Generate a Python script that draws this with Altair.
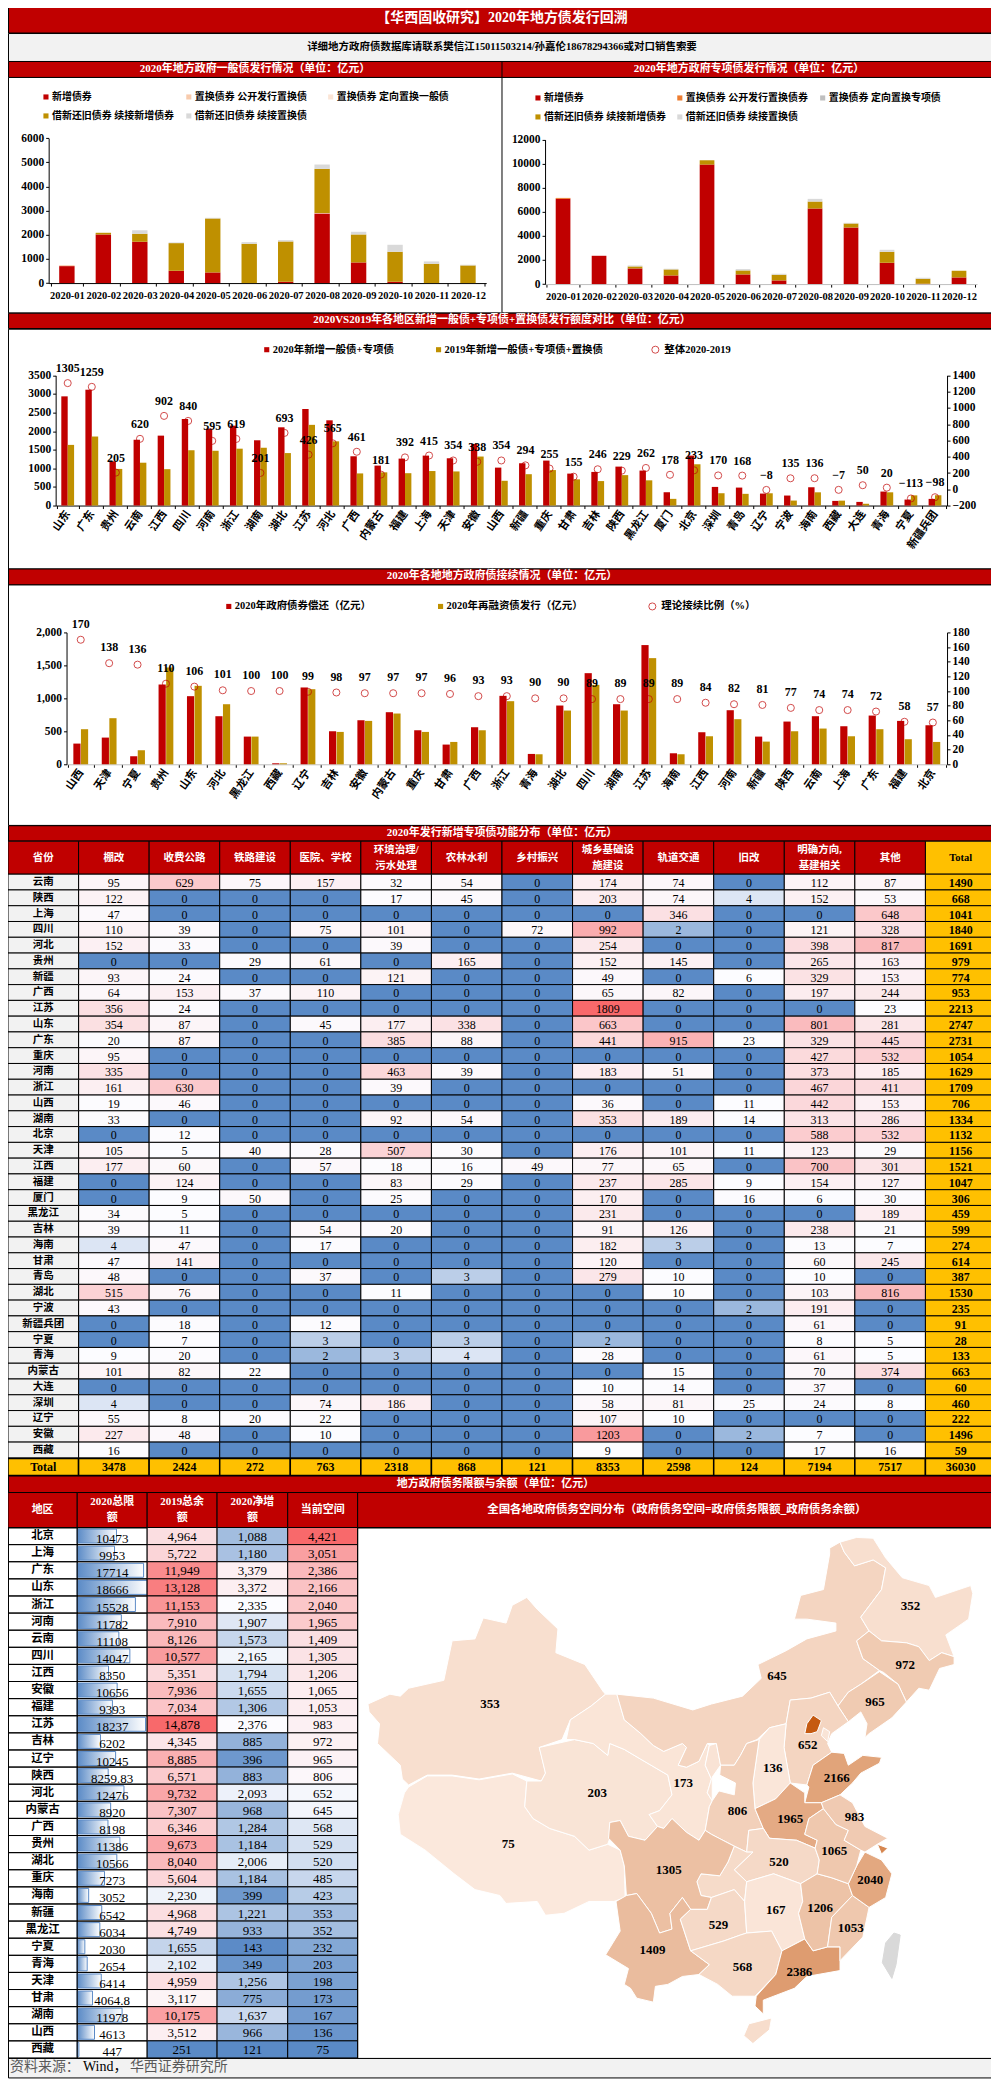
import altair as alt
import pandas as pd

F = "Liberation Serif, Noto Sans CJK SC, serif"
RED = "#c00000"
GOLD = "#bf9000"
GRAY = "#f2f2f2"
HEAT = ["#5A8AC6", "#FCFCFF", "#F8696B"]

# ---------- monthly issuance ----------
MONTHS = [f"2020-{m:02d}" for m in range(1, 13)]
GEN_SERIES = ["新增债券", "置换债券 公开发行置换债", "置换债券 定向置换一般债", "借新还旧债券 续接新增债券", "借新还旧债券 续接置换债"]
SPE_SERIES = ["新增债券", "置换债券 公开发行置换债券", "置换债券 定向置换专项债", "借新还旧债券 续接新增债券", "借新还旧债券 续接置换债"]
GEN_NEW = [703, 2013, 1710, 510, 441, 0, 55, 2883, 855, 55, 0, 0]
GEN_PUB = [40, 0, 0, 0, 0, 0, 0, 20, 0, 0, 0, 0]
GEN_DIR = [0, 0, 0, 0, 0, 0, 0, 0, 0, 0, 0, 0]
GEN_ROLLNEW = [0, 70, 330, 1145, 2235, 1628, 1669, 1828, 1159, 1242, 800, 731]
GEN_ROLLREP = [0, 0, 153, 28, 27, 68, 55, 179, 110, 289, 97, 28]
SPE_NEW = [7078, 2350, 1300, 719, 9925, 802, 304, 6276, 4700, 1770, 28, 553]
SPE_PUB = [80, 0, 0, 0, 0, 0, 0, 0, 0, 0, 0, 0]
SPE_DIR = [0, 0, 0, 0, 0, 0, 0, 0, 0, 0, 0, 0]
SPE_ROLLNEW = [0, 0, 165, 497, 360, 332, 470, 581, 332, 912, 414, 553]
SPE_ROLLREP = [0, 0, 83, 56, 0, 110, 83, 221, 55, 166, 83, 0]

# ---------- 2020 vs 2019 ----------
CMP_REGIONS = ["山东","广东","贵州","云南","江西","四川","河南","浙江","湖南","湖北","江苏","河北","广西","内蒙古","福建","上海","天津","安徽","山西","新疆","重庆","甘肃","吉林","陕西","黑龙江","厦门","北京","深圳","青岛","辽宁","宁波","海南","西藏","大连","青海","宁夏","新疆兵团"]
CMP_2020 = [2936,3115,1190,1772,1880,2327,2068,2148,1755,2104,2596,2292,1325,1074,1262,1343,1271,1656,1020,1137,1209,859,904,1047,940,358,1343,501,483,322,269,492,125,98,376,161,179]
CMP_2019 = [1631,1856,985,1152,978,1487,1473,1529,1554,1411,2170,1727,864,893,870,928,917,1318,666,843,954,704,658,818,678,180,1110,331,315,330,134,356,132,48,356,274,277]
CMP_DIFF = [1305,1259,205,620,902,840,595,619,201,693,426,565,461,181,392,415,354,338,354,294,255,155,246,229,262,178,233,170,168,-8,135,136,-7,50,20,-113,-98]

# ---------- rollover ----------
ROLL_REGIONS = ["山西","天津","宁夏","贵州","山东","河北","黑龙江","西藏","辽宁","吉林","安徽","内蒙古","重庆","甘肃","广西","浙江","青海","湖北","四川","湖南","江苏","海南","江西","河南","新疆","陕西","云南","上海","广东","福建","北京"]
ROLL_REPAY = [314,405,122,1210,1033,729,420,15,1165,501,668,790,516,299,562,1038,157,891,1382,911,1808,167,486,820,420,648,729,577,739,658,592]
ROLL_ISSUE = [532,699,213,1468,1190,911,420,15,1139,491,658,770,491,339,516,957,152,815,1205,815,1610,152,425,684,344,501,542,425,532,380,339]
ROLL_PCT = [170,138,136,110,106,101,100,100,99,98,97,97,97,96,93,93,90,90,89,89,89,89,84,82,81,77,74,74,72,58,57]

# ---------- use of special bonds ----------
USE_ROWS = ["云南","陕西","上海","四川","河北","贵州","新疆","广西","江苏","山东","广东","重庆","河南","浙江","山西","湖南","北京","天津","江西","福建","厦门","黑龙江","吉林","海南","甘肃","青岛","湖北","宁波","新疆兵团","宁夏","青海","内蒙古","大连","深圳","辽宁","安徽","西藏"]
USE_HEAD = ["省份","棚改","收费公路","铁路建设","医院、学校","环境治理/\n污水处理","农林水利","乡村振兴","城乡基础设\n施建设","轨道交通","旧改","明确方向,\n基建相关","其他","Total"]
C_PG = [95,122,47,110,152,0,93,64,356,354,20,95,335,161,19,33,0,105,177,0,0,34,39,4,47,48,515,43,0,0,9,101,0,4,55,227,16]
C_GL = [629,0,0,39,33,0,24,153,24,87,87,0,0,630,46,0,12,5,60,124,9,5,11,47,141,0,76,0,18,7,20,82,0,0,8,48,0]
C_TL = [75,0,0,0,0,29,0,37,0,0,0,0,0,0,0,0,0,40,0,0,50,0,0,0,0,0,0,0,0,0,0,22,0,0,20,0,0]
C_YY = [157,0,0,75,0,61,0,110,0,45,0,0,0,0,0,0,0,28,57,0,0,0,54,17,0,37,0,0,12,3,2,0,0,74,22,10,0]
C_HJ = [32,17,0,101,39,0,121,0,0,177,385,0,463,39,0,92,0,507,18,83,25,0,20,0,0,0,11,0,0,0,3,0,0,186,0,0,0]
C_NL = [54,45,0,0,0,165,0,0,0,338,88,0,39,0,0,54,0,30,16,29,0,0,0,0,0,3,0,0,0,3,4,0,0,0,0,0,0]
C_XC = [0,0,0,72,0,0,0,0,0,0,0,0,0,0,0,0,0,0,49,0,0,0,0,0,0,0,0,0,0,0,0,0,0,0,0,0,0]
C_JC = [174,203,0,992,254,152,49,65,1809,663,441,0,183,0,36,353,0,176,77,237,170,231,91,182,120,279,0,0,0,2,28,0,10,58,107,1203,9]
C_GD = [74,74,346,2,0,145,0,82,0,0,915,0,51,0,0,189,0,101,65,285,0,0,126,3,0,10,10,0,0,0,0,15,14,81,10,0,0]
C_JG = [0,4,0,0,0,0,6,0,0,0,23,0,0,0,11,14,0,11,0,9,16,0,0,0,0,0,0,2,0,0,0,0,0,25,0,2,0]
C_MQ = [112,152,0,121,398,265,329,197,0,801,329,427,373,467,442,313,588,123,700,154,6,0,238,13,60,10,103,191,61,8,61,70,37,24,0,7,17]
C_QT = [87,53,648,328,817,163,153,244,23,281,445,532,185,411,153,286,532,29,301,127,30,189,21,7,245,0,816,0,0,5,5,374,0,8,0,0,16]
C_TOTAL = [1490,668,1041,1840,1691,979,774,953,2213,2747,2731,1054,1629,1709,706,1334,1132,1156,1521,1047,306,459,599,274,614,387,1530,235,91,28,133,663,60,460,222,1496,59]
USE_SUM = [3478,2424,272,763,2318,868,121,8353,2598,124,7194,7517,36030]

# ---------- debt limit ----------
DEBT_REGIONS = ["北京","上海","广东","山东","浙江","河南","云南","四川","江西","安徽","福建","江苏","吉林","辽宁","陕西","河北","内蒙古","广西","贵州","湖北","重庆","海南","新疆","黑龙江","宁夏","青海","天津","甘肃","湖南","山西","西藏"]
DEBT_HEAD = ["地区","2020总限\n额","2019总余\n额","2020净增\n额","当前空间"]
D_LIMIT = [10473,9953,17714,18666,15528,11782,11108,14047,8350,10656,9393,18237,6202,10245,8259.83,12476,8920,8198,11386,10566,7273,3052,6542,6034,2030,2654,6414,4064.8,11978,4613,447]
D_BAL = [4964,5722,11949,13128,11153,7910,8126,10577,5351,7936,7034,14878,4345,8885,6571,9732,7307,6346,9673,8040,5604,2230,4968,4749,1655,2102,4959,3117,10175,3512,251]
D_NET = [1088,1180,3379,3372,2335,1907,1573,2165,1794,1655,1306,2376,885,396,883,2093,968,1284,1184,2006,1184,399,1221,933,143,349,1256,775,1637,966,121]
D_ROOM = [4421,3051,2386,2166,2040,1965,1409,1305,1206,1065,1053,983,972,965,806,652,645,568,529,520,485,423,353,352,232,203,198,173,167,136,75]

# ---------- map outlines (province, room, ring) ----------
MAP = {
"新疆":(353,[(32,590),(85,565),(110,570),(130,550),(215,530),(235,430),(290,425),(310,372),(365,385),(380,340),(415,320),(440,350),(490,400),(485,460),(555,490),(600,560),(605,565),(570,595),(520,630),(500,680),(445,700),(450,720),(460,765),(450,785),(380,765),(300,780),(235,770),(175,770),(130,795),(115,780),(110,745),(55,690),(60,640),(35,610)]),
"西藏":(75,[(130,800),(175,772),(235,772),(300,782),(380,767),(415,785),(410,850),(430,880),(470,905),(530,925),(565,960),(610,945),(640,960),(650,1000),(652,1080),(625,1090),(565,1090),(505,1120),(460,1125),(440,1090),(365,1095),(350,1075),(290,1060),(240,1020),(170,960),(110,920),(105,870),(120,815)]),
"青海":(203,[(445,700),(530,680),(575,690),(610,720),(615,690),(650,705),(690,730),(755,770),(765,820),(735,860),(710,870),(730,900),(700,935),(660,925),(640,885),(615,890),(615,930),(610,945),(565,960),(530,925),(470,905),(430,880),(410,850),(415,785),(450,785),(460,765)]),
"甘肃":(173,[(510,680),(520,630),(570,595),(605,565),(632,565),(650,630),(690,665),(720,695),(745,710),(790,690),(800,700),(780,745),(800,750),(830,735),(850,690),(855,695),(845,745),(860,780),(850,815),(862,835),(855,850),(845,910),(830,935),(800,915),(765,880),(745,905),(730,900),(710,870),(735,860),(765,820),(755,770),(690,730),(650,705),(615,690),(610,720),(575,690),(530,680)]),
"宁夏":(232,[(855,695),(872,690),(882,745),(862,775),(862,835),(850,815),(860,780),(845,745)]),
"内蒙古":(645,[(1145,195),(1170,180),(1180,205),(1205,240),(1250,225),(1280,245),(1270,300),(1220,370),(1240,405),(1210,430),(1225,475),(1265,505),(1220,540),(1190,560),(1165,595),(1145,560),(1100,575),(1050,580),(1040,640),(1000,650),(970,680),(945,690),(930,720),(915,745),(882,745),(872,690),(850,690),(830,735),(800,750),(780,745),(800,700),(790,690),(745,710),(720,695),(690,665),(650,630),(632,565),(720,575),(815,605),(860,590),(935,570),(980,525),(972,490),(1040,455),(1090,425),(1160,405),(1160,385),(1090,375),(1060,375),(1075,315),(1130,300),(1145,210)]),
"黑龙江":(352,[(1170,180),(1210,168),(1250,170),(1280,220),(1320,270),(1385,290),(1400,320),(1485,290),(1490,310),(1480,375),(1425,415),(1445,470),(1415,460),(1385,480),(1360,445),(1330,435),(1270,430),(1240,405),(1220,370),(1270,300),(1280,245),(1250,225),(1205,240),(1180,205)]),
"吉林":(972,[(1210,430),(1240,405),(1270,430),(1330,435),(1360,445),(1385,480),(1415,460),(1445,470),(1445,490),(1410,500),(1385,555),(1360,550),(1330,585),(1310,540),(1275,510),(1265,505),(1225,475)]),
"辽宁":(965,[(1165,595),(1190,560),(1220,540),(1265,508),(1310,540),(1330,585),(1295,625),(1240,665),(1230,675),(1235,640),(1220,610),(1190,635)]),
"河北":(652,[(1040,640),(1050,580),(1100,575),(1145,560),(1165,595),(1190,635),(1150,665),(1140,690),(1150,712),(1105,745),(1090,795),(1050,790),(1035,700)]),
"北京":(4421,[(1085,665),(1090,640),(1105,618),(1125,632),(1115,660),(1100,665)]),
"天津":(198,[(1130,650),(1145,660),(1140,685),(1125,670)]),
"山东":(2166,[(1090,795),(1105,745),(1150,712),(1180,715),(1190,745),(1225,720),(1270,725),(1265,740),(1220,765),(1200,790),(1170,820),(1125,840),(1085,840),(1095,800)]),
"山西":(136,[(975,680),(1000,650),(1040,640),(1035,700),(1050,790),(1015,830),(965,855),(960,790)]),
"陕西":(806,[(945,690),(975,680),(960,790),(965,855),(985,905),(950,910),(945,965),(915,950),(860,920),(845,910),(855,850),(862,835),(878,810),(915,820),(918,790),(880,770),(882,745),(915,745),(930,720)]),
"河南":(1965,[(965,855),(1015,830),(1050,790),(1085,815),(1085,840),(1125,840),(1130,855),(1095,880),(1085,920),(1115,935),(1110,955),(1065,935),(1000,930),(985,905)]),
"湖北":(520,[(950,910),(985,905),(1000,930),(1065,935),(1110,955),(1120,985),(1115,1020),(1075,1045),(1010,1020),(945,1040),(915,1010),(960,965),(945,965)]),
"重庆":(485,[(915,950),(945,965),(960,965),(915,1010),(945,1040),(940,1090),(915,1060),(860,1080),(835,1075),(825,1040),(835,1020),(880,1025),(900,990)]),
"四川":(1305,[(615,890),(640,885),(660,925),(700,935),(730,900),(745,905),(765,880),(800,915),(830,935),(845,910),(860,920),(915,950),(900,990),(880,1025),(835,1020),(825,1040),(835,1075),(860,1080),(850,1110),(810,1110),(790,1080),(760,1120),(765,1160),(735,1170),(715,1120),(680,1070),(655,1075),(650,1000),(640,960),(612,930)]),
"云南":(1409,[(630,1090),(655,1075),(680,1070),(715,1120),(735,1170),(765,1160),(760,1120),(790,1080),(810,1110),(785,1135),(810,1215),(855,1250),(830,1275),(790,1280),(755,1300),(725,1305),(720,1345),(680,1335),(665,1310),(650,1300),(660,1260),(605,1225),(640,1165)]),
"贵州":(529,[(785,1135),(810,1110),(850,1110),(860,1080),(915,1060),(940,1090),(945,1170),(930,1175),(890,1190),(810,1215)]),
"湖南":(167,[(945,1040),(1010,1020),(1075,1045),(1080,1090),(1070,1120),(1085,1185),(1030,1215),(1005,1165),(945,1170),(940,1090)]),
"广西":(568,[(810,1215),(890,1190),(930,1175),(945,1170),(1005,1165),(1030,1215),(1015,1275),(965,1330),(910,1330),(875,1300),(830,1275),(855,1250)]),
"广东":(2386,[(1030,1215),(1085,1185),(1105,1215),(1140,1205),(1170,1205),(1170,1265),(1090,1280),(1060,1310),(985,1340),(985,1375),(965,1355),(968,1330),(1015,1275)]),
"海南":(423,[(950,1400),(1005,1385),(1000,1415),(960,1450),(938,1430)]),
"江西":(1206,[(1075,1045),(1115,1020),(1150,1030),(1190,1045),(1200,1075),(1150,1130),(1140,1205),(1105,1215),(1085,1185),(1070,1120),(1080,1090)]),
"福建":(1053,[(1150,1130),(1200,1075),(1240,1105),(1225,1180),(1170,1240),(1170,1205),(1140,1205)]),
"浙江":(2040,[(1230,965),(1270,985),(1295,1020),(1280,1080),(1240,1105),(1200,1075),(1190,1045),(1210,1000)]),
"上海":(3051,[(1260,945),(1285,955),(1270,970)]),
"安徽":(1065,[(1095,880),(1130,855),(1160,895),(1190,910),(1180,935),(1220,960),(1210,1000),(1190,1045),(1150,1030),(1115,1020),(1120,985),(1110,955),(1115,935),(1085,920)]),
"江苏":(983,[(1125,840),(1170,820),(1200,840),(1230,900),(1285,930),(1260,945),(1230,965),(1220,960),(1180,935),(1190,910),(1160,895),(1130,855)]),
}
TAIWAN = [(1300,1170),(1315,1175),(1305,1250),(1295,1285),(1272,1245),(1280,1195)]
MAP_LABELS = [(353,326,590),(203,585,815),(75,370,945),(173,792,790),(136,1008,752),(652,1092,693),(645,1018,520),(352,1340,342),(972,1327,490),(965,1254,584),(2166,1162,778),(983,1205,875),(1965,1050,880),(806,923,862),(1065,1156,963),(520,1023,990),(2040,1243,1035),(1305,757,1010),(1206,1122,1107),(167,1015,1112),(1053,1196,1157),(529,877,1150),(1409,718,1213),(568,935,1255),(2386,1072,1268)]

WIDTH = 989


def frame(fill="white"):
    return alt.ViewBackground(fill=fill, stroke="black", strokeWidth=1)


def band(text, w, h, size=11, cx=None, fill=RED, color="white", bold=True):
    return (alt.Chart(pd.DataFrame({"t": [text]}))
            .mark_text(color=color, font=F, fontSize=size, fontWeight="bold" if bold else "normal")
            .encode(text="t:N", x=alt.value(w / 2 if cx is None else cx), y=alt.value(h / 2))
            .properties(width=w, height=h, view=frame(fill)))


def legend(items, size=10):
    out = []
    for label, color, shape, px, py in items:
        df = pd.DataFrame({"t": [label]})
        if shape == "circle":
            m = alt.Chart(df).mark_point(shape="circle", filled=False, color=RED, size=50, strokeWidth=1)
        else:
            m = alt.Chart(df).mark_point(shape="square", filled=True, color=color, size=26, opacity=1)
        out.append(m.encode(x=alt.value(px), y=alt.value(py)))
        out.append(alt.Chart(df).mark_text(align="left", font=F, fontSize=size, fontWeight="bold", color="black")
                   .encode(text="t:N", x=alt.value(px + (9 if shape == "circle" else 6)), y=alt.value(py)))
    return out


def stacked(series, colors, arrays, ymax, step, H, xl, xr, yt, yb, size, leg, dom):
    rows = []
    for o, (s, arr) in enumerate(zip(series, arrays)):
        for m, v in zip(MONTHS, arr):
            rows.append({"m": m, "s": s, "v": v, "o": o})
    bars = (alt.Chart(pd.DataFrame(rows)).mark_bar(size=size).encode(
        x=alt.X("m:N", sort=MONTHS, scale=alt.Scale(range=[xl, xr]),
                axis=alt.Axis(title=None, orient="bottom", offset=-(H - yb), labelAngle=0, labelFontSize=10.5, labelOverlap=False,
                              tickBand="extent", domainColor=dom, labelPadding=4, labelFontWeight="bold")),
        y=alt.Y("v:Q", stack="zero", scale=alt.Scale(domain=[0, ymax], range=[yb, yt]),
                axis=alt.Axis(title=None, orient="left", offset=-xl, grid=False, values=list(range(0, ymax + 1, step)),
                              labelFontSize=11.5, format="d", labelFontWeight="bold")),
        color=alt.Color("s:N", scale=alt.Scale(domain=series, range=colors), legend=None),
        order=alt.Order("o:Q")))
    return [bars] + legend(leg)


def combo(regions, a, b, c, W, H, xl, xr, yt, yb, size, off, ldom, lvals, lfmt, rdom, rvals, angle, leg, dom, dy):
    df = pd.DataFrame({"r": regions, "a": a, "b": b, "c": c})
    x = alt.X("r:N", sort=regions, scale=alt.Scale(range=[xl, xr]),
              axis=alt.Axis(title=None, offset=-(H - yb), labelAngle=angle, labelFontSize=11, labelOverlap=False,
                            tickBand="extent", domainColor=dom, labelFontWeight="bold", labelPadding=3))
    ys = alt.Scale(domain=ldom, range=[yb, yt])
    rs = alt.Scale(domain=rdom, range=[yb, yt])
    red = alt.Chart(df).mark_bar(size=size, color=RED, xOffset=-off).encode(
        x=x, y=alt.Y("a:Q", scale=ys, axis=alt.Axis(title=None, offset=-xl, grid=False, values=lvals, format=lfmt,
                                                    labelFontSize=11.5, labelFontWeight="bold")))
    gold = alt.Chart(df).mark_bar(size=size, color=GOLD, xOffset=off).encode(
        x=x, y=alt.Y("b:Q", scale=ys, axis=None))
    pts = alt.Chart(df).mark_point(shape="circle", filled=False, color=RED, size=50, strokeWidth=1).encode(
        x=x, y=alt.Y("c:Q", scale=rs, axis=alt.Axis(title=None, orient="right", offset=-(W - xr), grid=False,
                                                    values=rvals, labelFontSize=11.5, labelFontWeight="bold", format="d")))
    txt = alt.Chart(df).mark_text(font=F, fontSize=12, fontWeight="bold", color="black", dy=dy).encode(
        x=x, y=alt.Y("c:Q", scale=rs, axis=None), text="c:Q")
    return (alt.layer(red, gold, pts, txt, *legend(leg, 10.5)).resolve_scale(y="independent")
            .properties(width=W, height=H, view=frame()))


def vrule(px, h):
    return alt.Chart(pd.DataFrame({"a": [0]})).mark_rule(color="black", strokeWidth=1).encode(
        x=alt.value(px), y=alt.value(0), y2=alt.value(h))


def cell(text, x0, x1, h, fill=RED, color="white", size=11):
    """A header cell: a framed rectangle with one or two lines of text."""
    lines = text.split("\n")
    df = pd.DataFrame({"t": lines})
    rect = alt.Chart(df.head(1)).mark_rect(fill=fill, stroke="black", strokeWidth=1).encode(
        x=alt.value(x0), x2=alt.value(x1), y=alt.value(0), y2=alt.value(h))
    out = [rect]
    for i, line in enumerate(lines):
        yy = h / 2 if len(lines) == 1 else h / 2 + (i - 0.5) * 16
        out.append(alt.Chart(pd.DataFrame({"t": [line]})).mark_text(
            font=F, fontSize=size, fontWeight="bold", color=color).encode(
            text="t:N", x=alt.value((x0 + x1) / 2), y=alt.value(yy)))
    return out


# ---- top panels
H1 = 235.7
MID = 494.5
c1 = stacked(GEN_SERIES, [RED, "#f8cbad", "#fbe5d6", GOLD, "#d9d9d9"],
             [GEN_NEW, GEN_PUB, GEN_DIR, GEN_ROLLNEW, GEN_ROLLREP], 6000, 1000, H1, 40.7, 478.7, 61.3, 206.3, 15.4,
             [(GEN_SERIES[0], RED, "s", 38, 20), (GEN_SERIES[1], "#f8cbad", "s", 181, 20), (GEN_SERIES[2], "#fbe5d6", "s", 323, 20),
              (GEN_SERIES[3], GOLD, "s", 38, 39), (GEN_SERIES[4], "#d9d9d9", "s", 181, 39)], "black")
c2 = stacked(SPE_SERIES, [RED, "#ed7d31", "#bfbfbf", GOLD, "#d9d9d9"],
             [SPE_NEW, SPE_PUB, SPE_DIR, SPE_ROLLNEW, SPE_ROLLREP], 12000, 2000, H1, MID + 43.1, MID + 475.5, 62.7, 207.3, 14.7,
             [(SPE_SERIES[0], RED, "s", MID + 36, 21), (SPE_SERIES[1], "#ed7d31", "s", MID + 178, 21), (SPE_SERIES[2], "#bfbfbf", "s", MID + 321, 21),
              (SPE_SERIES[3], GOLD, "s", MID + 36, 40), (SPE_SERIES[4], "#d9d9d9", "s", MID + 178, 40)], "#bfbfbf")
top_row = (alt.layer(*c1, *c2, vrule(MID, H1))
           .resolve_scale(x="independent", y="independent", color="independent")
           .properties(width=WIDTH, height=H1, view=frame()))

head_row = alt.layer(
    vrule(MID, 16),
    alt.Chart(pd.DataFrame({"t": ["2020年地方政府一般债发行情况（单位：亿元）"]})).mark_text(
        color="white", font=F, fontSize=11, fontWeight="bold").encode(text="t:N", x=alt.value(MID / 2), y=alt.value(8)),
    alt.Chart(pd.DataFrame({"t": ["2020年地方政府专项债发行情况（单位：亿元）"]})).mark_text(
        color="white", font=F, fontSize=11, fontWeight="bold").encode(text="t:N", x=alt.value(MID * 1.5), y=alt.value(8)),
).properties(width=WIDTH, height=16, view=frame(RED))

c3 = combo(CMP_REGIONS, CMP_2020, CMP_2019, CMP_DIFF, WIDTH, 240, 47.7, 940, 46.7, 177, 6.4, 3.2,
           [0, 3500], list(range(0, 3501, 500)), "d", [-200, 1400], list(range(-200, 1401, 200)), -55,
           [("2020年新增一般债+专项债", RED, "s", 259, 21), ("2019年新增一般债+专项债+置换债", GOLD, "s", 431, 21),
            ("整体2020-2019", RED, "circle", 648, 21)], "black", -15)
c4 = combo(ROLL_REGIONS, ROLL_REPAY, ROLL_ISSUE, ROLL_PCT, WIDTH, 240.7, 58.6, 940, 48, 180, 7.2, 3.8,
           [0, 2000], list(range(0, 2001, 500)), ",.0f", [0, 180], list(range(0, 181, 20)), -55,
           [("2020年政府债券偿还（亿元）", RED, "s", 221, 22), ("2020年再融资债发行（亿元）", GOLD, "s", 433, 22),
            ("理论接续比例（%）", RED, "circle", 645, 22)], "#bfbfbf", -16)

# ---- use table
COL_KEYS = [f"c{i:02d}" for i in range(14)]
tx = alt.Scale(type="band", domain=COL_KEYS, paddingInner=0, paddingOuter=0)
CSTEP = WIDTH / 14
t1_cells = []
for i, h in enumerate(USE_HEAD):
    t1_cells += cell(h, i * CSTEP, (i + 1) * CSTEP, 33,
                     fill=RED if i < 13 else "#ffc000", color="white" if i < 13 else "black", size=10.5)
t1_head = alt.layer(*t1_cells).properties(width=WIDTH, height=33)

USE_COLS = [C_PG, C_GL, C_TL, C_YY, C_HJ, C_NL, C_XC, C_JC, C_GD, C_JG, C_MQ, C_QT]
use_rows = []
for k, arr in zip(COL_KEYS[1:13], USE_COLS):
    for r, v in zip(USE_ROWS, arr):
        use_rows.append({"k": k, "r": r, "v": v})
use_df = pd.DataFrame(use_rows)
side_df = pd.DataFrame({"r": USE_ROWS, "k": COL_KEYS[0], "t": USE_ROWS})
tot_df = pd.DataFrame({"r": USE_ROWS, "k": COL_KEYS[13], "t": C_TOTAL})
ty = alt.Scale(type="band", domain=USE_ROWS, paddingInner=0, paddingOuter=0)
X = alt.X("k:N", scale=tx, axis=None)
Y = alt.Y("r:N", scale=ty, axis=None)
t1_body = alt.layer(
    alt.Chart(use_df).mark_rect(stroke="black", strokeWidth=1).encode(
        x=X, y=Y, color=alt.Color("v:Q", scale=alt.Scale(domain=[0, 5, 1809], range=HEAT, interpolate="rgb"), legend=None)),
    alt.Chart(side_df).mark_rect(stroke="black", strokeWidth=1, color=GRAY).encode(x=X, y=Y),
    alt.Chart(tot_df).mark_rect(stroke="black", strokeWidth=1, color="#ffc000").encode(x=X, y=Y),
    alt.Chart(use_df).mark_text(font=F, fontSize=12, color="black", dy=1).encode(x=X, y=Y, text="v:Q"),
    alt.Chart(side_df).mark_text(font=F, fontSize=10.5, fontWeight="bold", color="black").encode(x=X, y=Y, text="t:N"),
    alt.Chart(tot_df).mark_text(font=F, fontSize=12, fontWeight="bold", color="black", dy=1).encode(x=X, y=Y, text="t:Q"),
).properties(width=WIDTH, height=584.3)

tr_df = pd.DataFrame({"k": COL_KEYS, "t": ["Total"] + [str(v) for v in USE_SUM]})
t1_tot = alt.layer(
    alt.Chart(tr_df).mark_rect(stroke="black", strokeWidth=1.5, color="#ffc000").encode(x=alt.X("k:N", scale=tx, axis=None)),
    alt.Chart(tr_df).mark_text(font=F, fontSize=12, fontWeight="bold", color="black").encode(x=alt.X("k:N", scale=tx, axis=None), text="t:N"),
).properties(width=WIDTH, height=17)

# ---- debt table + map (one flat view; each column has its own colour scale)
dy_sc = alt.Scale(type="band", domain=DEBT_REGIONS, paddingInner=0, paddingOuter=0)
DY = alt.Y("r:N", scale=dy_sc, axis=None)
COLS_X = [0, 69.3, 139.3, 209.3, 280, 350]
TH = 531


def grid(df, c, color=None):
    x0, x1 = COLS_X[c], COLS_X[c + 1]
    if color is not None:
        return alt.Chart(df).mark_rect(stroke="black", strokeWidth=1).encode(
            x=alt.value(x0), x2=alt.value(x1), y=DY, color=color)
    return alt.Chart(df).mark_rect(stroke="black", strokeWidth=1, filled=False).encode(
        x=alt.value(x0), x2=alt.value(x1), y=DY)


def text_col(df, c, weight="normal", size=13, dy=1):
    return alt.Chart(df).mark_text(font=F, fontSize=size, fontWeight=weight, color="black", dy=dy).encode(
        x=alt.value((COLS_X[c] + COLS_X[c + 1]) / 2), y=DY, text="t:N")


def heat(vals, dom, c):
    df = pd.DataFrame({"r": DEBT_REGIONS, "v": vals, "t": [f"{v:,}" for v in vals]})
    col = alt.Color("v:Q", scale=alt.Scale(domain=dom, range=HEAT, interpolate="rgb"), legend=None)
    return [grid(df, c, color=col), text_col(df, c)]


name_df = pd.DataFrame({"r": DEBT_REGIONS, "t": DEBT_REGIONS})
lim_df = pd.DataFrame({"r": DEBT_REGIONS, "v": D_LIMIT, "t": [f"{v}" for v in D_LIMIT]})
grad = alt.LinearGradient(gradient="linear", x1=0, x2=1, y1=0, y2=0,
                          stops=[alt.GradientStop(color="#5A8AC6", offset=0), alt.GradientStop(color="white", offset=1)])
t2_layers = [
    grid(name_df, 0), text_col(name_df, 0, "bold", 11.5, 0),
    alt.Chart(lim_df).mark_bar(fill=grad, stroke="#5A8AC6", strokeWidth=1, size=14).encode(
        x=alt.X("v:Q", scale=alt.Scale(domain=[0, 18666], range=[COLS_X[1], COLS_X[2]]), axis=None), y=DY),
    grid(lim_df, 1), text_col(lim_df, 1, dy=3),
]
t2_layers += heat(D_BAL, [251, 2400, 14878], 2) + heat(D_NET, [121, 2300, 14878], 3) + heat(D_ROOM, [75, 680, 4421], 4)

d_cells = []
for i, h in enumerate(DEBT_HEAD):
    d_cells += cell(h, COLS_X[i], COLS_X[i + 1], 35)
d_cells += cell("全国各地政府债务空间分布（政府债务空间=政府债务限额_政府债务余额）", 350, WIDTH, 35, size=11.5)
d_head = alt.layer(*d_cells).properties(width=WIDTH, height=35)

SX, SY = 1 / 2.408, 1 / 2.53
OX, OY = 347.0, -56.5


def ring(points):
    pts = [[OX + x * SX, OY + y * SY] for x, y in points]
    return pts + [pts[0]]


features = [{"type": "Feature", "properties": {"name": k, "v": v},
             "geometry": {"type": "Polygon", "coordinates": [ring(p)]}} for k, (v, p) in MAP.items()]
tw = [{"type": "Feature", "properties": {"name": "台湾"}, "geometry": {"type": "Polygon", "coordinates": [ring(TAIWAN)]}}]
proj = dict(type="identity", scale=1, translate=[0, 0])
map_fill = (alt.Chart(alt.Data(values=features)).mark_geoshape(stroke="white", strokeWidth=1).encode(
    color=alt.Color("properties.v:Q", scale=alt.Scale(domain=[75, 4421], range=["#fbe8dc", "#c55a11"], interpolate="rgb"), legend=None)).project(**proj))
map_tw = alt.Chart(alt.Data(values=tw)).mark_geoshape(fill="#d9d9d9", stroke="#d9d9d9").project(**proj)
lab_df = pd.DataFrame({"t": [str(a) for a, _, _ in MAP_LABELS],
                       "lon": [OX + x * SX for _, x, _ in MAP_LABELS],
                       "lat": [OY + y * SY for _, _, y in MAP_LABELS]})
map_txt = (alt.Chart(lab_df).mark_text(font=F, fontSize=13, fontWeight="bold", color="black")
           .encode(longitude="lon:Q", latitude="lat:Q", text="t:N").project(**proj))

flat = []
for item in t2_layers:
    if isinstance(item, list):
        flat += item
    else:
        flat.append(item)
bottom_row = (alt.layer(map_fill, map_tw, map_txt, *flat, vrule(350, TH))
              .resolve_scale(x="independent", y="independent", color="independent")
              .properties(width=WIDTH, height=TH, view=frame()))

# source line: three runs, the middle one black
SOURCE_RUNS = [("资料来源：", "#595959", 2), ("Wind，", "black", 75), ("华西证券研究所", "#595959", 122)]
source = alt.layer(*[
    alt.Chart(pd.DataFrame({"t": [t]})).mark_text(font=F, fontSize=14, color=c, align="left").encode(
        text="t:N", x=alt.value(px), y=alt.value(9.5)) for t, c, px in SOURCE_RUNS
]).properties(width=WIDTH, height=19.5, view=frame(GRAY))

chart = alt.vconcat(
    band("【华西固收研究】2020年地方债发行回溯", WIDTH, 28.5, 14),
    band("详细地方政府债数据库请联系樊信江15011503214/孙嘉伦18678294366或对口销售索要", WIDTH, 28, 10.5, fill=GRAY, color="black"),
    head_row,
    top_row,
    band("2020VS2019年各地区新增一般债+专项债+置换债发行额度对比（单位：亿元）", WIDTH, 15.3),
    c3,
    band("2020年各地地方政府债接续情况（单位：亿元）", WIDTH, 16),
    c4,
    band("2020年发行新增专项债功能分布（单位：亿元）", WIDTH, 15.3),
    t1_head, t1_body, t1_tot,
    band("地方政府债务限额与余额（单位：亿元）", WIDTH, 16.7, cx=488),
    d_head,
    bottom_row,
    source,
    spacing=0, bounds="flush",
).resolve_scale(color="independent").properties(padding=dict(left=-6, top=-6, right=-6, bottom=0)).configure_view(stroke=None).configure_axis(
    labelFont=F, labelColor="black", domainColor="black", tickColor="black", grid=False, tickSize=3)

chart.save("out.html", embed_options={"renderer": "svg", "actions": False})
